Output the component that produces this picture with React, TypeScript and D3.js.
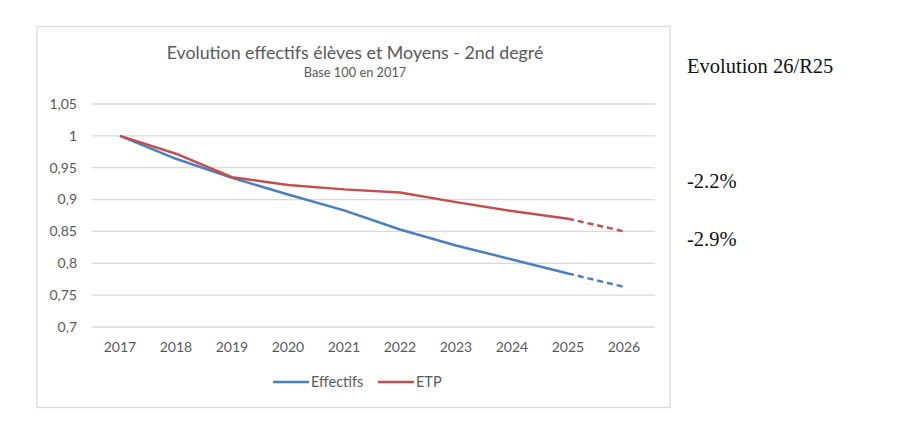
import * as d3 from "d3";

const years = [2017, 2018, 2019, 2020, 2021, 2022, 2023, 2024, 2025, 2026];
const effectifs = [1.0, 0.964, 0.934, 0.908, 0.883, 0.853, 0.828, 0.806, 0.784, 0.763];
const etp = [1.0, 0.972, 0.935, 0.923, 0.916, 0.911, 0.896, 0.882, 0.87, 0.85];
const yTicks = [0.7, 0.75, 0.8, 0.85, 0.9, 0.95, 1, 1.05];
const notes = ["-2.2%", "-2.9%"];

const series = [
  { name: "Effectifs", values: effectifs, color: "#4A7EC2" },
  { name: "ETP", values: etp, color: "#C0504D" },
];

const FONT = "Lato, 'Open Sans', sans-serif";
const SERIF = "'Liberation Serif', 'Times New Roman', serif";
const TEXT = "#595959";

export default function App() {
  const x = d3.scalePoint<number>().domain(years).range([120, 624]);
  const y = d3.scaleLinear().domain([0.7, 1.05]).range([327, 104]);
  const line = d3
    .line<[number, number]>()
    .x((d) => x(d[0])!)
    .y((d) => y(d[1]));
  const fmt = (v: number) => String(+v.toFixed(2)).replace(".", ",");

  return (
    <svg
      width={900}
      height={441}
      style={{ position: "absolute", left: 0, top: 0, background: "#fff" }}
    >
      <rect x={37} y={26.5} width={633} height={381} fill="#fff" stroke="#D9D9D9" strokeWidth={1.3} />
      <text x={355} y={59} textAnchor="middle" fontFamily={FONT} fontSize={17.8} fill={TEXT}>
        Evolution effectifs élèves et Moyens - 2nd degré
      </text>
      <text x={355} y={77} textAnchor="middle" fontFamily={FONT} fontSize={12.8} fill={TEXT}>
        Base 100 en 2017
      </text>
      {yTicks.map((t) => (
        <g key={t}>
          <line x1={92} x2={655} y1={y(t)} y2={y(t)} stroke="#D9D9D9" strokeWidth={1.3} />
          <text x={77} y={y(t)} dy="0.35em" textAnchor="end" fontFamily={FONT} fontSize={14} fill={TEXT}>
            {fmt(t)}
          </text>
        </g>
      ))}
      {years.map((yr) => (
        <text key={yr} x={x(yr)} y={352} textAnchor="middle" fontFamily={FONT} fontSize={14} fill={TEXT}>
          {yr}
        </text>
      ))}
      {series.map((s) => {
        const pts = years.map((yr, i) => [yr, s.values[i]] as [number, number]);
        return (
          <g key={s.name}>
            <path d={line(pts.slice(0, 9))!} fill="none" stroke={s.color} strokeWidth={2.5} strokeLinejoin="round" />
            <path d={line(pts.slice(8))!} fill="none" stroke={s.color} strokeWidth={2.5} strokeDasharray="6,4" />
          </g>
        );
      })}
      {series.map((s, i) => {
        const lx = i === 0 ? 273 : 378;
        return (
          <g key={s.name}>
            <line x1={lx} x2={lx + 36} y1={382} y2={382} stroke={s.color} strokeWidth={2.5} />
            <text x={lx + 38} y={382} dy="0.35em" fontFamily={FONT} fontSize={14.5} fill={TEXT}>
              {s.name}
            </text>
          </g>
        );
      })}
      <text x={687} y={73} fontFamily={SERIF} fontSize={20.5} fill="#111">
        Evolution 26/R25
      </text>
      {notes.map((n, i) => (
        <text key={n} x={687} y={i === 0 ? 188 : 246} fontFamily={SERIF} fontSize={20.5} fill="#111">
          {n}
        </text>
      ))}
    </svg>
  );
}
